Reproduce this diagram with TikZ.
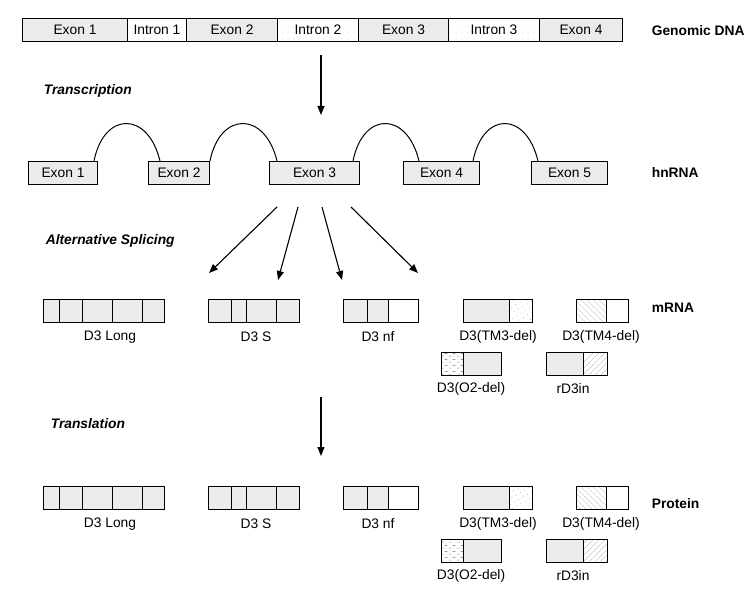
\documentclass[tikz,border=0pt]{standalone}
\usepackage{fontspec}
\setmainfont{Liberation Sans}
\usetikzlibrary{arrows.meta,patterns,patterns.meta}
\definecolor{exongray}{HTML}{EBEBEB}
% short horizontal dashes for the O2 deletion
\pgfdeclarepatternformonly{shortdash}{\pgfpointorigin}{\pgfqpoint{8pt}{6pt}}{\pgfqpoint{8pt}{6pt}}{%
  \pgfsetlinewidth{0.8pt}%
  \pgfpathmoveto{\pgfqpoint{1pt}{1pt}}\pgfpathlineto{\pgfqpoint{4pt}{1pt}}%
  \pgfpathmoveto{\pgfqpoint{5pt}{4pt}}\pgfpathlineto{\pgfqpoint{8pt}{4pt}}%
  \pgfusepath{stroke}}
\begin{document}
\begin{tikzpicture}[x=1pt,y=-1pt,line width=1pt,font=\fontsize{13.8}{16}\selectfont,
  seg/.style={draw,rectangle,inner sep=0pt,anchor=north west,minimum height=23pt},
  exon/.style={seg,fill=exongray},
  intron/.style={seg,pattern={Dots[radius=0.5pt,distance=6pt]},pattern color=gray!45},
  blank/.style={seg},
  speck/.style={seg,pattern={Dots[radius=0.6pt,distance=5pt,angle=30]},pattern color=gray!50},
  hatchl/.style={seg,pattern={Lines[angle=-45,distance=4pt,line width=0.5pt]},pattern color=gray!50},
  hatchr/.style={seg,pattern={Lines[angle=45,distance=4pt,line width=0.5pt]},pattern color=gray!60},
  dashbox/.style={seg,pattern=shortdash,pattern color=gray!80},
  stage/.style={font=\fontsize{13.8}{16}\selectfont\bfseries\itshape,anchor=west},
  rowlbl/.style={font=\fontsize{13.8}{16}\selectfont\bfseries,anchor=west},
  arr/.style={-{Triangle[length=9pt,width=7pt]},line width=1.1pt}]

\useasboundingbox (0,0) rectangle (753,591);

%Genomic DNA
\node[exon,minimum width=105pt] (g1) at (22,18) {Exon 1};
\node[intron,minimum width=59pt] (g2) at (127,18) {Intron 1};
\node[exon,minimum width=91pt] (g3) at (186,18) {Exon 2};
\node[intron,minimum width=81pt] (g4) at (277,18) {Intron 2};
\node[exon,minimum width=90pt] (g5) at (358,18) {Exon 3};
\node[intron,minimum width=91pt] (g6) at (448,18) {Intron 3};
\node[exon,minimum width=83pt] (g7) at (539,18) {\raisebox{-2pt}{Exon 4}};
\node[rowlbl] (ldna) at (648,31) {Genomic DNA};

\coordinate (dna) at (321,55);
\coordinate (hn) at (321,115);
\draw[arr] (dna) -- (hn);
\node[stage] (trs) at (40,91) {Transcription};

%hnRNA
\node[exon,minimum width=69pt] (h1) at (28,161) {Exon 1};
\node[exon,minimum width=61pt] (h2) at (148,161) {Exon 2};
\node[exon,minimum width=90pt] (h3) at (269,161) {Exon 3};
\node[exon,minimum width=76pt] (h4) at (403,161) {Exon 4};
\node[exon,minimum width=76pt] (h5) at (531,161) {Exon 5};
\node[rowlbl] (lhn) at (648,173) {hnRNA};

\draw ([xshift=-4pt]h1.north east) .. controls +(10,-50) and +(-12,-50) .. ([xshift=12pt]h2.north west);
\draw (h2.north east) .. controls +(10,-50) and +(-12,-50) .. ([xshift=8pt]h3.north west);
\draw ([xshift=-7pt]h3.north east) .. controls +(10,-50) and +(-12,-50) .. ([xshift=16pt]h4.north west);
\draw ([xshift=-7pt]h4.north east) .. controls +(10,-50) and +(-12,-50) .. ([xshift=7pt]h5.north west);

%splicing
\foreach \i/\sx/\tx/\ty in {1/277/209/273,2/298/278/280,3/322/342/280,4/351/418/273}{
  \coordinate (s\i) at (\sx,207);
  \coordinate (t\i) at (\tx,\ty);
  \draw[arr] (s\i) -- (t\i);
}
\node[stage] (spl) at (42,241) {Alternative Splicing};

\coordinate (mr) at (321,397);
\coordinate (pr) at (321,456);
\draw[arr] (mr) -- (pr);
\node[stage] (trl) at (47,424) {Translation};

\node[rowlbl] (lm) at (648,308) {mRNA};
\node[rowlbl] (lp) at (648,504) {Protein};

%isoforms, mRNA and protein rows
\foreach \r/\y in {m/299,p/486}{
  \foreach \i/\x/\w in {1/43/16,2/59/23,3/82/30,4/112/30,5/142/22}
    \node[exon,minimum width=\w pt] (\r L\i) at (\x,\y) {};
  \node (\r Llab) at (110,\y+38) {D3 Long};

  \foreach \i/\x/\w in {1/208/23,2/231/15,3/246/30,4/276/23}
    \node[exon,minimum width=\w pt] (\r S\i) at (\x,\y) {};
  \node (\r Slab) at (256,\y+38) {D3 S};

  \node[exon,minimum width=24pt] (\r N1) at (343,\y) {};
  \node[exon,minimum width=21pt] (\r N2) at (367,\y) {};
  \node[blank,minimum width=30pt] (\r N3) at (388,\y) {};
  \node (\r Nlab) at (378,\y+38) {D3 nf};

  \node[exon,minimum width=46pt] (\r T1) at (463,\y) {};
  \node[speck,minimum width=23pt] (\r T2) at (509,\y) {};
  \node (\r Tlab) at (498,\y+38) {D3(TM3-del)};

  \node[hatchl,minimum width=30pt] (\r F1) at (576,\y) {};
  \node[blank,minimum width=22pt] (\r F2) at (606,\y) {};
  \node (\r Flab) at (601,\y+38) {D3(TM4-del)};

  \node[dashbox,minimum width=22pt] (\r O1) at (441,\y+53) {};
  \node[exon,minimum width=38pt] (\r O2) at (463,\y+53) {};
  \node (\r Olab) at (471,\y+90) {D3(O2-del)};

  \node[exon,minimum width=37pt] (\r R1) at (546,\y+53) {};
  \node[hatchr,minimum width=24pt] (\r R2) at (583,\y+53) {};
  \node (\r Rlab) at (573,\y+90) {rD3in};
}

\end{tikzpicture}
\end{document}
